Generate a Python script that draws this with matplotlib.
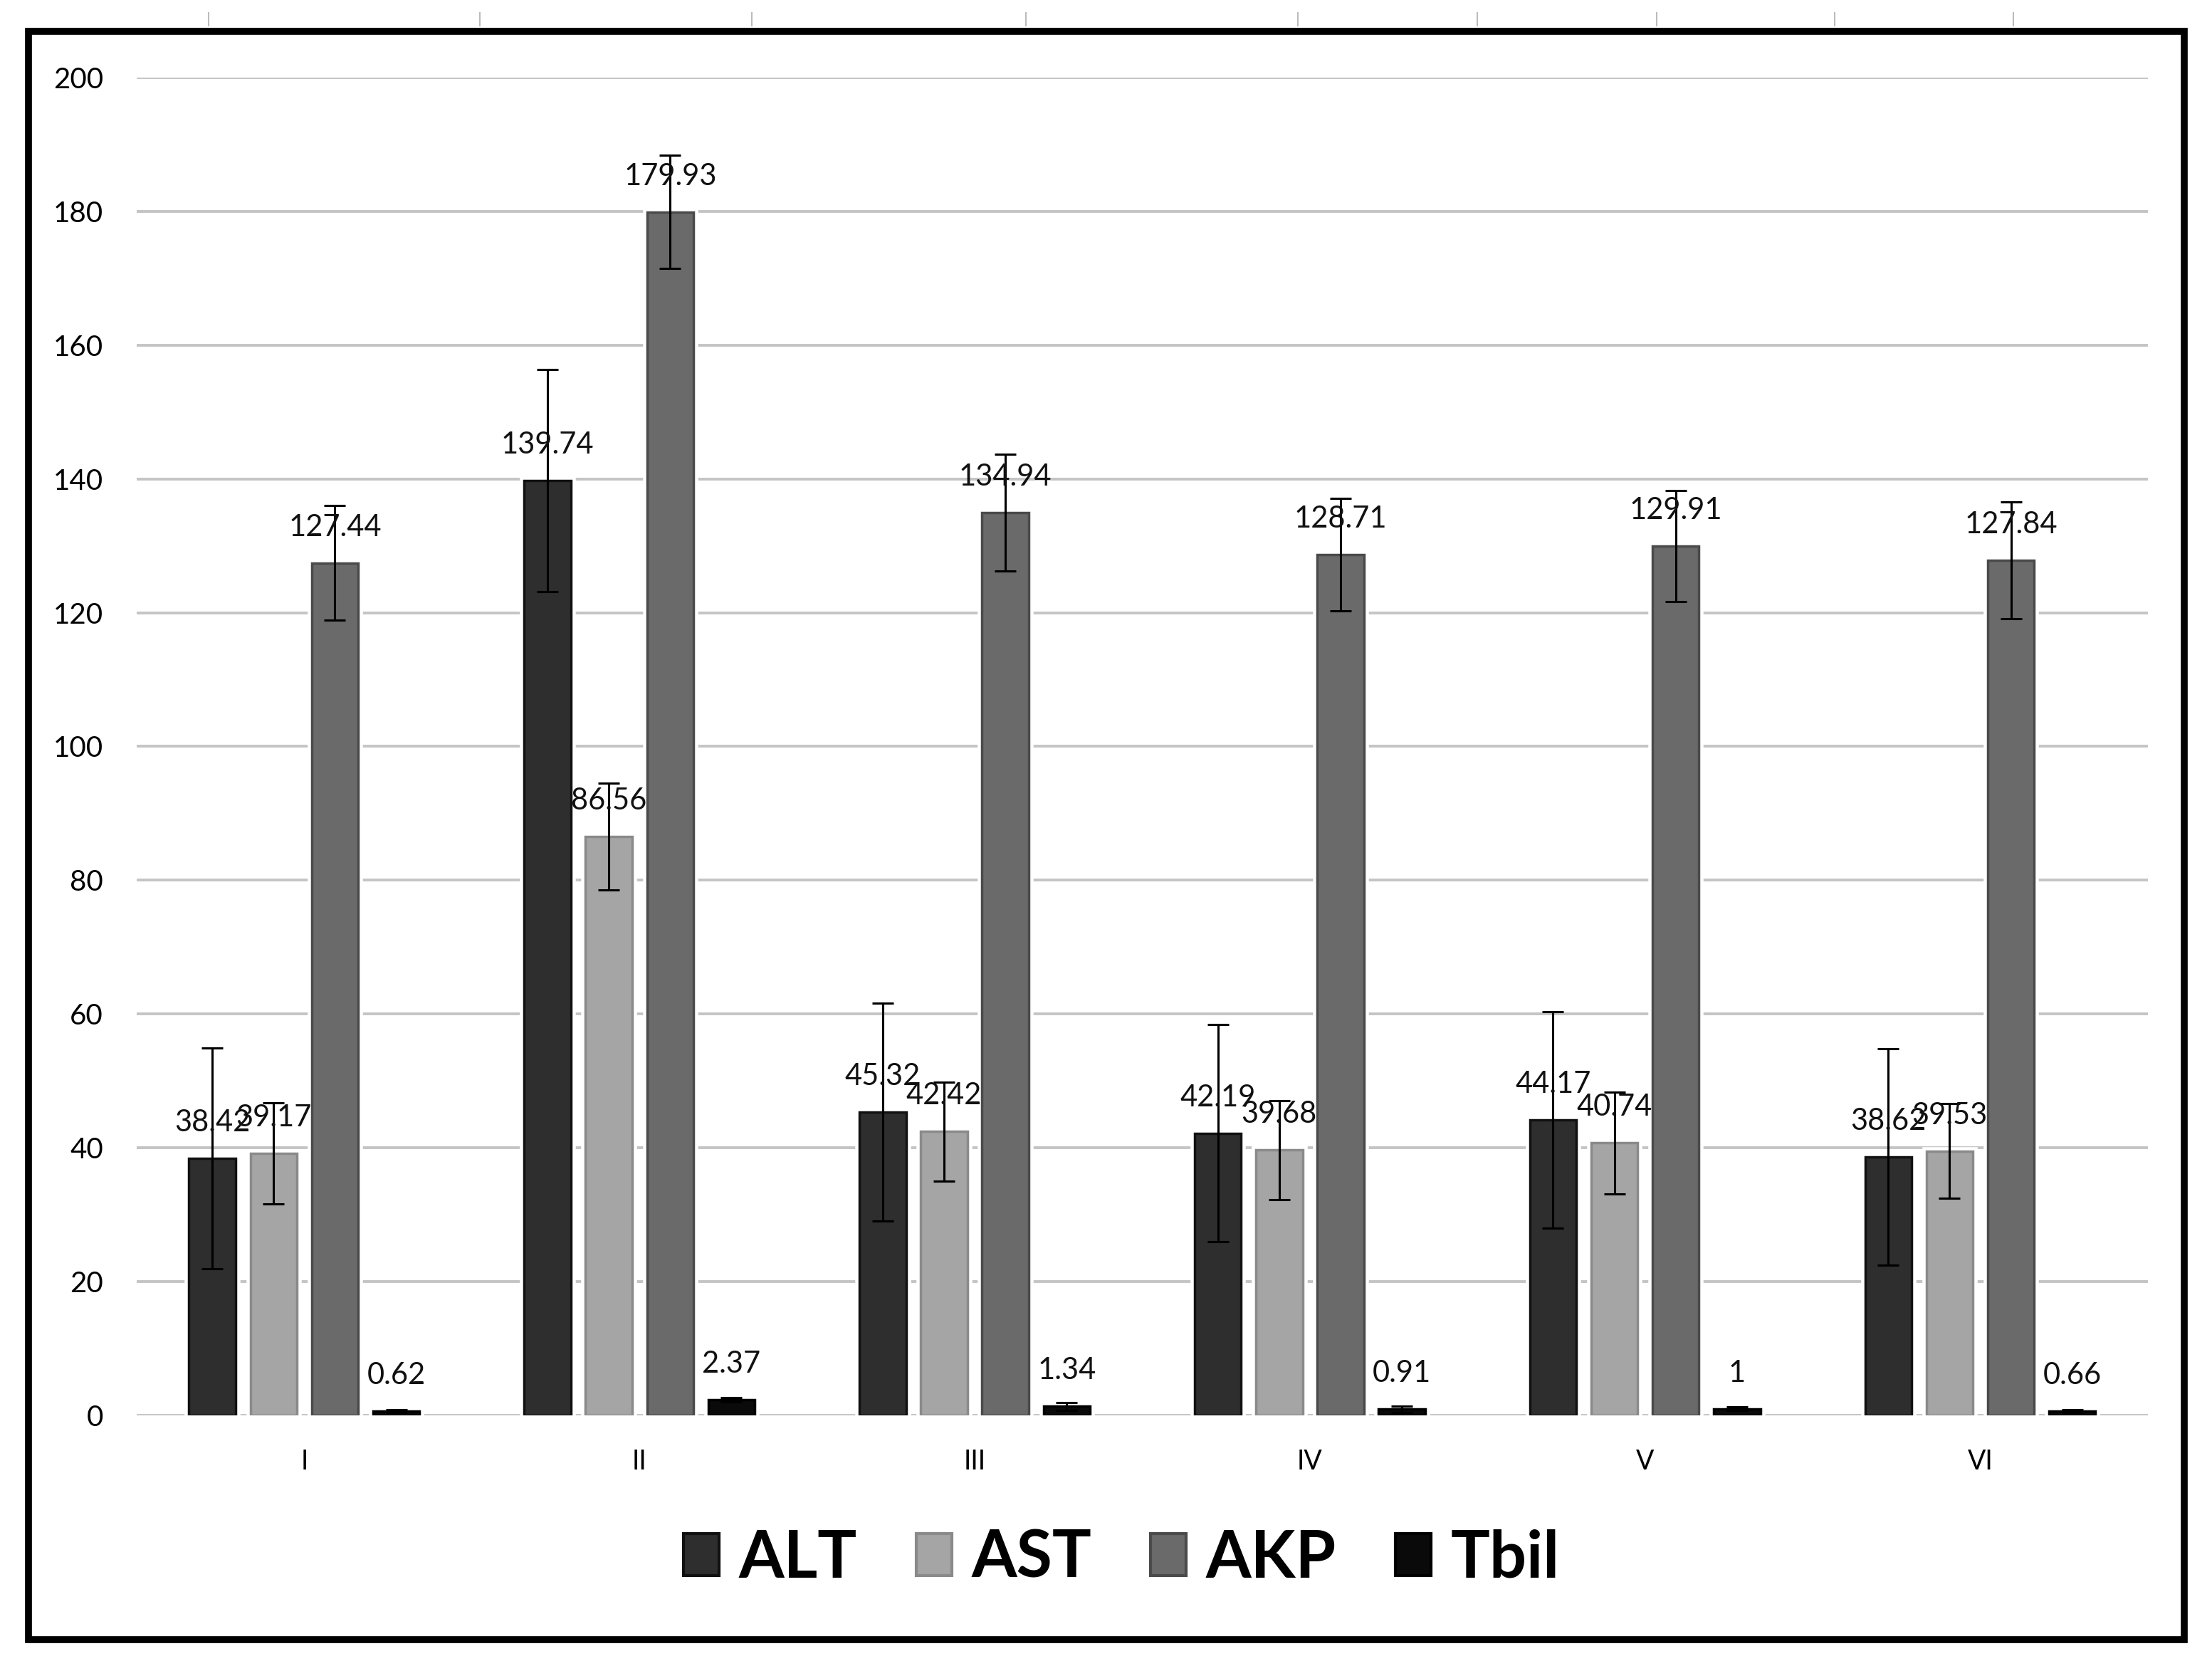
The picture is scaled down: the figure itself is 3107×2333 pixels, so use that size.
import matplotlib
matplotlib.use("Agg")
import matplotlib.pyplot as plt
import matplotlib.patheffects as pe
from matplotlib.patches import Rectangle
from matplotlib.lines import Line2D
import numpy as np

plt.rcParams['font.family'] = ['Lato', 'DejaVu Sans']

groups = ["I", "II", "III", "IV", "V", "VI"]
series = ["ALT", "AST", "AKP", "Tbil"]
alt = [38.42, 139.74, 45.32, 42.19, 44.17, 38.62]
ast = [39.17, 86.56, 42.42, 39.68, 40.74, 39.53]
akp = [127.44, 179.93, 134.94, 128.71, 129.91, 127.84]
tbil = [0.62, 2.37, 1.34, 0.91, 1, 0.66]
alt_err = [16.5, 16.6, 16.3, 16.2, 16.2, 16.2]
ast_err = [7.6, 8.0, 7.4, 7.4, 7.6, 7.1]
akp_err = [8.6, 8.5, 8.7, 8.4, 8.3, 8.7]
tbil_err = [0.2, 0.3, 0.6, 0.5, 0.3, 0.2]
yticks = [0, 20, 40, 60, 80, 100, 120, 140, 160, 180, 200]

values = [alt, ast, akp, tbil]
errors = [alt_err, ast_err, akp_err, tbil_err]
fills = ["#2e2e2e", "#a5a5a5", "#6a6a6a", "#0a0a0a"]
edges = ["#111111", "#8a8a8a", "#4a4a4a", "#000000"]

W, H = 3107, 2333
fig = plt.figure(figsize=(W / 100, H / 100), dpi=100)
ax = fig.add_axes([0.0618, 0.1479, 0.9092, 0.8054])

x = np.arange(len(groups))
step = 0.183
width = 0.139
offsets = [-1.5 * step, -0.5 * step, 0.5 * step, 1.5 * step]

for i, (vals, errs) in enumerate(zip(values, errors)):
    pos = x + offsets[i]
    bars = ax.bar(pos, vals, width=width, color=fills[i], edgecolor=edges[i],
                  linewidth=2.5, label=series[i], zorder=3)
    for b in bars:
        b.set_path_effects([pe.Stroke(linewidth=9, foreground="white"), pe.Normal()])
    ax.errorbar(pos, vals, yerr=errs, fmt="none", ecolor="black",
                elinewidth=2.2, capsize=11, capthick=2.2, zorder=4)
    for p, v in zip(pos, vals):
        ax.annotate(f"{v:g}", (p, v), xytext=(0, 36), textcoords="offset points",
                    ha="center", va="center", fontsize=30, color="#111111", zorder=5)

ax.set_xlim(-0.5, len(groups) - 0.5)
ax.set_ylim(0, 200)
ax.set_yticks(yticks)
ax.set_yticklabels([str(t) for t in yticks], fontsize=29)
ax.set_xticks(x)
ax.set_xticklabels(groups, fontsize=27)
ax.tick_params(axis="y", length=0, pad=34)
ax.tick_params(axis="x", length=0, pad=34)
for s in ax.spines.values():
    s.set_visible(False)
ax.yaxis.grid(True, color="#c4c4c4", linewidth=2.8, zorder=0)
ax.set_axisbelow(True)
ax.set_facecolor("none")

# legend
handles = [Rectangle((0, 0), 1, 1, facecolor=fills[i], edgecolor=edges[i], linewidth=3)
           for i in range(4)]
fig.legend(handles, series, loc="center", bbox_to_anchor=(0.507, 0.0613), ncol=4,
           frameon=False, prop={"weight": "bold", "size": 66},
           handlelength=0.55, handleheight=0.62, handletextpad=0.3, columnspacing=0.9)

# outer frame
fig.patches.append(Rectangle((40 / W, 1 - 2303 / H), (3068 - 40) / W, (2303 - 44) / H,
                             transform=fig.transFigure, fill=False, edgecolor="black",
                             linewidth=7, zorder=10))

# faint spreadsheet tick remnants above the frame
for px in [293, 674, 1056, 1441, 1823, 2075, 2327, 2577, 2828]:
    fig.add_artist(Line2D([px / W, px / W], [1 - 18 / H, 1 - 36 / H],
                          transform=fig.transFigure, color="#bbbbbb", linewidth=1.5))

fig.savefig("out.png", dpi=100, facecolor="white")
